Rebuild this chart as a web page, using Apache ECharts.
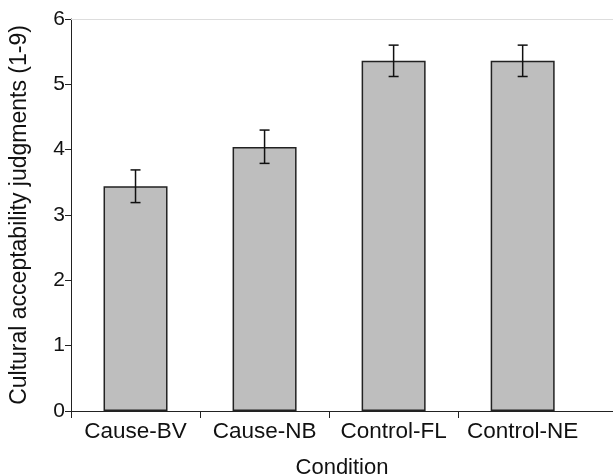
<!DOCTYPE html>
<html>
<head>
<meta charset="utf-8">
<script src="https://cdn.jsdelivr.net/npm/echarts@6/dist/echarts.min.js"></script>
<style>
  html, body { margin: 0; padding: 0; background: #fff; }
  #main { width: 613px; height: 476px; }
</style>
</head>
<body>
<div id="main"></div>
<script>
var categories = ['Cause-BV', 'Cause-NB', 'Control-FL', 'Control-NE'];
var means = [3.44, 4.04, 5.36, 5.36];
var errLow = [3.19, 3.79, 5.12, 5.12];
var errHigh = [3.69, 4.30, 5.60, 5.60];
var yTicks = [0, 1, 2, 3, 4, 5, 6];

var font = 'Liberation Sans, Arial, Helvetica, sans-serif';
var chart = echarts.init(document.getElementById('main'));

var barData = [];
var errData = [];
for (var i = 0; i < categories.length; i++) {
    barData.push([i, means[i]]);
    errData.push([i, errLow[i], errHigh[i]]);
}

var option = {
    animation: false,
    grid: { left: 71, right: 0, top: 19, bottom: 65, outerBoundsMode: 'none', containLabel: false },
    xAxis: {
        type: 'value',
        min: -0.5,
        max: 3.7,
        name: 'Condition',
        nameLocation: 'middle',
        nameGap: 46,
        nameTextStyle: { fontFamily: font, fontSize: 22, color: '#111' },
        splitLine: { show: false },
        axisLine: { onZero: false, lineStyle: { color: '#222', width: 1 } },
        axisTick: {
            customValues: [-0.5, 0.5, 1.5, 2.5],
            length: 7,
            lineStyle: { color: '#222' }
        },
        axisLabel: {
            customValues: [0, 1, 2, 3],
            formatter: function (v) { return categories[Math.round(v)]; },
            fontFamily: font,
            fontSize: 22.5,
            color: '#111',
            margin: 9
        }
    },
    yAxis: {
        type: 'value',
        min: yTicks[0],
        max: yTicks[yTicks.length - 1],
        interval: 1,
        name: 'Cultural acceptability judgments (1-9)',
        nameLocation: 'middle',
        nameGap: 40,
        nameTextStyle: { fontFamily: font, fontSize: 23, color: '#111' },
        splitLine: { show: false },
        axisLine: { show: true, onZero: false, lineStyle: { color: '#222', width: 1 } },
        axisTick: { show: true, length: 6, lineStyle: { color: '#222' } },
        axisLabel: { fontFamily: font, fontSize: 21, color: '#111', margin: 6 }
    },
    series: [
        {
            type: 'bar',
            data: barData,
            barWidth: 64,
            itemStyle: { color: '#bebebe', borderColor: '#222', borderWidth: 1.5 },
            markLine: {
                silent: true,
                symbol: 'none',
                label: { show: false },
                lineStyle: { color: '#dddddd', type: 'solid', width: 1 },
                data: [{ yAxis: 6 }]
            }
        },
        {
            type: 'custom',
            data: errData,
            z: 10,
            renderItem: function (params, api) {
                var x = api.value(0);
                var lo = api.coord([x, api.value(1)]);
                var hi = api.coord([x, api.value(2)]);
                var cap = 5;
                var style = { stroke: '#111', lineWidth: 1.5 };
                return {
                    type: 'group',
                    children: [
                        { type: 'line', shape: { x1: lo[0], y1: lo[1], x2: hi[0], y2: hi[1] }, style: style },
                        { type: 'line', shape: { x1: lo[0] - cap, y1: lo[1], x2: lo[0] + cap, y2: lo[1] }, style: style },
                        { type: 'line', shape: { x1: hi[0] - cap, y1: hi[1], x2: hi[0] + cap, y2: hi[1] }, style: style }
                    ]
                };
            }
        }
    ]
};

chart.setOption(option);
</script>
</body>
</html>
